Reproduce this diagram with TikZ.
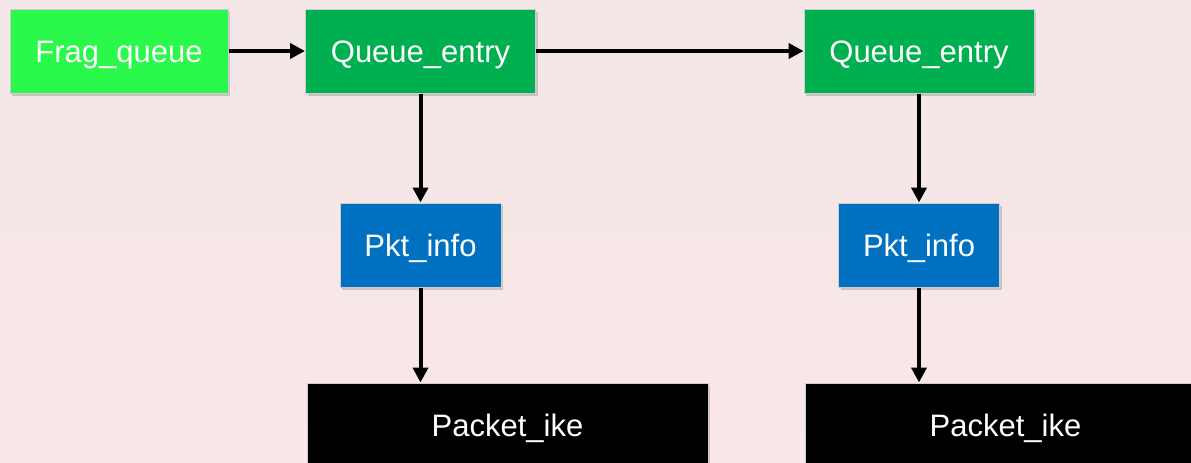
\documentclass[tikz,border=0pt]{standalone}
\usepackage{fontspec}
\setmainfont{Liberation Sans}
\usepackage{tikz}
\usepackage{xcolor}
\usetikzlibrary{arrows.meta,shadows}

\definecolor{fragGreen}{RGB}{42,248,74}
\definecolor{entryGreen}{RGB}{0,176,80}
\definecolor{infoBlue}{RGB}{0,112,192}
\definecolor{bgTop}{RGB}{243,231,231}
\definecolor{bgBottom}{RGB}{250,231,231}

\begin{document}
\begin{tikzpicture}[x=1pt,y=-1pt,
    box/.style={rectangle,inner sep=0pt,minimum height=84pt,text=white,
      text height=22pt,text depth=0pt,
      draw={rgb,255:red,205;green,205;blue,205},line width=1pt,
      font=\fontsize{31}{37}\selectfont,
      drop shadow={opacity=0.35,shadow xshift=2pt,shadow yshift=-3pt}},
    link/.style={-{Triangle[length=15pt,width=15pt]},line width=4pt,black}]
  \useasboundingbox (0,0) rectangle (1191,463);
  \clip (0,0) rectangle (1191,463);
  \shade[top color=bgTop,bottom color=bgBottom] (0,0) rectangle (1191,463);
  % top row
  \node[box,fill=fragGreen,minimum width=218pt] (frag) at (119,51) {Frag\_queue};
  \node[box,fill=entryGreen,minimum width=230pt] (entryA) at (420.5,51) {Queue\_entry};
  \node[box,fill=entryGreen,minimum width=230pt] (entryB) at (919,51) {Queue\_entry};
  % middle row
  \node[box,fill=infoBlue,minimum width=161pt] (infoA) at (420.5,245) {Pkt\_info};
  \node[box,fill=infoBlue,minimum width=161pt] (infoB) at (919,245) {Pkt\_info};
  % bottom row
  \node[box,fill=black,minimum width=401pt] (ikeA) at (507.5,425) {Packet\_ike};
  \node[box,fill=black,minimum width=401pt] (ikeB) at (1005.5,425) {Packet\_ike};
  \draw[link] (frag) -- (entryA);
  \draw[link] (entryA) -- (entryB);
  \foreach \n in {A,B} {
    \draw[link] (entry\n) -- (info\n);
    \draw[link] (info\n.south) -- (info\n.south |- ike\n.north);
  }
\end{tikzpicture}
\end{document}
